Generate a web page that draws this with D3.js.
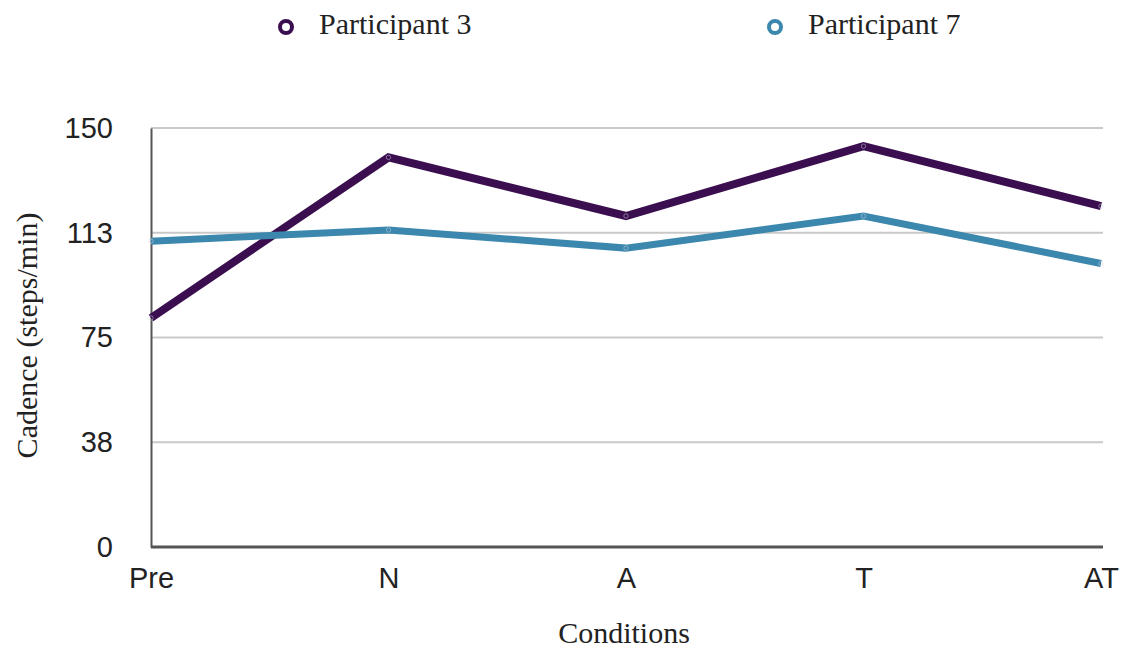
<!DOCTYPE html>
<html>
<head>
<meta charset="utf-8">
<script src="https://cdn.jsdelivr.net/npm/d3@7"></script>
<style>
  body { margin: 0; background: #fff; }
  svg { display: block; }
</style>
</head>
<body>
<div id="chart"></div>
<script>
// conditions along the x axis
const conditions = ["Pre", "N", "A", "T", "AT"];
// cadence values (steps/min)
const participant3 = [82, 139.5, 118.5, 143.5, 122];
const participant7 = [109.5, 113.5, 107, 118.5, 101.5];
const seriesNames = ["Participant 3", "Participant 7"];
const seriesColors = ["#3b0f4f", "#3b87ad"];
const yTicks = [0, 37.5, 75, 112.5, 150];

const sansFont = "'Liberation Sans', Arial, sans-serif";
const serifFont = "'Liberation Serif', 'Times New Roman', serif";

const width = 1122, height = 651;
const margin = { top: 128, right: 19, bottom: 104, left: 151 };
const innerWidth = width - margin.left - margin.right;
const innerHeight = height - margin.top - margin.bottom;

const svg = d3.select("#chart")
  .append("svg")
  .attr("width", width)
  .attr("height", height);

const innerChart = svg.append("g")
  .attr("transform", `translate(${margin.left}, ${margin.top})`);

const xScale = d3.scalePoint()
  .domain(conditions)
  .range([0, innerWidth - 2]);

const yScale = d3.scaleLinear()
  .domain([0, 150])
  .range([innerHeight, 0]);

// gridlines
innerChart.selectAll("line.grid")
  .data(yTicks.filter(d => d > 0))
  .join("line")
  .attr("class", "grid")
  .attr("x1", 0)
  .attr("x2", innerWidth)
  .attr("y1", d => yScale(d))
  .attr("y2", d => yScale(d))
  .attr("stroke", "#c9c9c9")
  .attr("stroke-width", 2);

// y axis
const yAxis = d3.axisLeft(yScale)
  .tickValues(yTicks)
  .tickFormat(d => Math.round(d))
  .tickSize(0)
  .tickPadding(38);
const yAxisG = innerChart.append("g")
  .call(yAxis)
  .attr("font-size", 29)
  .attr("font-family", sansFont);
yAxisG.select(".domain").attr("stroke", "#555").attr("stroke-width", 2);
yAxisG.selectAll("text").attr("fill", "#222");

// x axis
const xAxis = d3.axisBottom(xScale).tickSize(0).tickPadding(20);
const xAxisG = innerChart.append("g")
  .attr("transform", `translate(0, ${innerHeight})`)
  .call(xAxis)
  .attr("font-size", 29)
  .attr("font-family", sansFont);
xAxisG.select(".domain").attr("stroke", "#555").attr("stroke-width", 3).attr("d", `M0,0H${innerWidth}`);
xAxisG.selectAll("text").attr("fill", "#222");

// lines
const series = [participant3, participant7];
const lineGen = d3.line()
  .x((d, i) => xScale(conditions[i]))
  .y(d => yScale(d));

series.forEach((values, s) => {
  innerChart.append("path")
    .datum(values)
    .attr("fill", "none")
    .attr("stroke", seriesColors[s])
    .attr("stroke-width", s === 0 ? 8 : 7)
    .attr("stroke-linejoin", "miter")
    .attr("d", lineGen);

  innerChart.selectAll(`circle.pt${s}`)
    .data(values)
    .join("circle")
    .attr("class", `pt${s}`)
    .attr("cx", (d, i) => xScale(conditions[i]))
    .attr("cy", d => yScale(d))
    .attr("r", 2.2)
    .attr("fill", "none")
    .attr("stroke", "#d8d8e8")
    .attr("stroke-width", 0.8)
    .attr("opacity", 0.6);
});

// axis titles
svg.append("text")
  .attr("font-family", serifFont)
  .attr("font-size", 30)
  .attr("fill", "#222")
  .attr("text-anchor", "middle")
  .attr("transform", `translate(37, ${margin.top + innerHeight / 2 - 2}) rotate(-90)`)
  .text("Cadence (steps/min)");

svg.append("text")
  .attr("font-family", serifFont)
  .attr("font-size", 30)
  .attr("fill", "#222")
  .attr("text-anchor", "middle")
  .attr("x", 624)
  .attr("y", 643)
  .text("Conditions");

// legend
const legendX = [286, 775];
const legend = svg.append("g").attr("class", "legend");
seriesNames.forEach((name, i) => {
  legend.append("circle")
    .attr("cx", legendX[i])
    .attr("cy", 27)
    .attr("r", 6)
    .attr("fill", "#fff")
    .attr("stroke", seriesColors[i])
    .attr("stroke-width", 4);
  legend.append("text")
    .attr("font-family", serifFont)
    .attr("font-size", 30)
    .attr("fill", "#222")
    .attr("x", legendX[i] + 33)
    .attr("y", 34)
    .text(name);
});
</script>
</body>
</html>
